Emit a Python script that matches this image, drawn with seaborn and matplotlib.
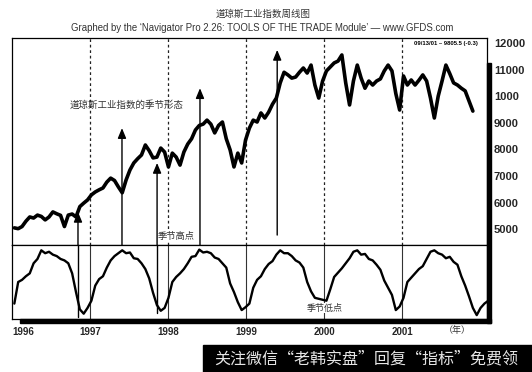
import numpy as np
import pandas as pd
import matplotlib
matplotlib.use("Agg")
import matplotlib.pyplot as plt
from matplotlib.patches import Rectangle
import seaborn as sns

sns.set_style("white")
plt.rcParams['font.family'] = ['Liberation Sans', 'Noto Sans CJK SC', 'DejaVu Sans']
CJK = ['Noto Sans CJK SC', 'DejaVu Sans']

# ---------------- data ----------------
t_start = 1996.03          # first sample (decimal year)
t_step = 0.0494            # sample spacing (years)

dow = [5050, 5020, 5100, 5300, 5460, 5420, 5530, 5480, 5350, 5460,
       5650, 5580, 5520, 5100, 5530, 5570, 5460, 5850, 5980, 6100,
       6290, 6400, 6480, 6550, 6770, 6920, 6830, 6590, 6370, 6850,
       7225, 7490, 7650, 7790, 8165, 7950, 7680, 7710, 8050, 7900,
       7340, 7860, 7710, 7410, 7900, 8200, 8400, 8730, 8900, 8950,
       9100, 8950, 8620, 8900, 9030, 8400, 7980, 7340, 7860, 7490,
       8350, 8800, 9100, 9030, 9370, 9180, 9400, 9700, 9930, 10500,
       10900, 10800, 10680, 10720, 10900, 11060, 10870, 11170, 10420, 9930,
       10570, 10950, 11100, 11250, 11320, 11550, 10500, 9670, 10570, 11170,
       10680, 10300, 10570, 10420, 10570, 10650, 10950, 11170, 10950, 10100,
       9480, 10760, 10420, 10610, 10420, 10600, 10800, 10570, 9930, 9180,
       10000, 10570, 11170, 10850, 10500, 10420, 10300, 10200, 9820, 9440]

osc = [20, 50, 53, 58, 62, 76, 82, 94, 90, 92,
       88, 86, 82, 80, 76, 62, 36, 12, 6, 14,
       24, 45, 54, 58, 70, 80, 86, 90, 94, 90,
       91, 83, 82, 76, 68, 55, 35, 18, 10, 14,
       28, 50, 57, 62, 68, 76, 85, 86, 95, 91,
       92, 90, 84, 82, 76, 70, 48, 36, 22, 11,
       15, 20, 42, 53, 58, 68, 75, 79, 88, 94,
       90, 90, 86, 80, 77, 70, 50, 37, 28, np.nan,
       np.nan, 24, 40, 57, 63, 69, 76, 83, 92, 94,
       88, 89, 82, 80, 74, 67, 52, 42, 32, 11,
       16, 28, 50, 56, 62, 68, 72, 82, 92, 94,
       90, 88, 83, 85, 78, 74, 58, 45, 30, 14,
       4, 14, 20, 24]

year_lines = [1997, 1998, 1999, 2000, 2001]
year_labels = ['1996', '1997', '1998', '1999', '2000', '2001']
price_ticks = [5000, 6000, 7000, 8000, 9000, 10000, 11000, 12000]
price_labels = ['5000', '6000', '7000', '8000', '9000', '1000', '11000', '12000']

# arrows: x (year), tip value, base value in top panel, base in lower panel (None = no extension)
arrow_x = [1996.846, 1997.41, 1997.86, 1998.41, 1999.40]
arrow_tip = [5650, 8800, 7490, 10300, 11740]
arrow_base = [None, 4406, None, 4406, 4780]
arrow_low = [1.4, None, 7.0, None, None]

df_top = pd.DataFrame({'t': t_start + t_step * np.arange(len(dow)), 'v': dow})
df_bot = pd.DataFrame({'t': t_start + t_step * np.arange(len(osc)), 'v': osc})

# ---------------- layout ----------------
W, H = 532, 372
fig = plt.figure(figsize=(W / 100, H / 100), dpi=100)

def fx(px):
    return px / W

def fy(py):
    return 1 - py / H

L, R = 12, 487
T, MID, B = 38, 245, 319
ax1 = fig.add_axes([fx(L), fy(MID), (R - L) / W, (MID - T) / H])
ax2 = fig.add_axes([fx(L), fy(B), (R - L) / W, (B - MID) / H], sharex=ax1)

x0 = 1996.0
x1 = 1996.0 + (R - 12) / 78

# top panel
sns.lineplot(data=df_top, x='t', y='v', ax=ax1, color='black', lw=2.6, estimator=None)
ax1.set_ylim(4406, 12188)
ax1.set_xlim(x0, x1)
for yl in year_lines:
    ax1.axvline(yl, color='#222222', lw=0.9, ls=(0, (2.2, 2.2)), zorder=1)
ax1.yaxis.tick_right()
ax1.set_yticks(price_ticks)
ax1.set_yticklabels(price_labels, fontsize=8, fontweight='bold')
ax1.tick_params(axis='y', length=0, pad=5)
ax1.tick_params(axis='x', length=0, labelbottom=False)
ax1.set_xlabel('')
ax1.set_ylabel('')

# lower panel
sns.lineplot(data=df_bot, x='t', y='v', ax=ax2, color='black', lw=1.7, estimator=None)
ax2.set_ylim(-1.4, 101.4)
ax2.set_yticks([])
for yl in year_lines:
    ax2.axvline(yl, color='#333333', lw=0.8, zorder=1)
ax2.set_xticks([1996.0] + year_lines)
ax2.set_xticklabels(year_labels, fontsize=7, fontweight='bold')
ax2.tick_params(axis='x', length=0, pad=6)
ax2.get_xticklabels()[0].set_horizontalalignment('left')
ax2.set_xlabel('')
ax2.set_ylabel('')
ax2.set_xlim(x0, x1)

for ax in (ax1, ax2):
    for s in ax.spines.values():
        s.set_color('black')
        s.set_linewidth(0.9)

# arrows
for xa, tip, base, low in zip(arrow_x, arrow_tip, arrow_base, arrow_low):
    b = base if base is not None else 4406
    ax1.annotate('', xy=(xa, tip), xytext=(xa, b), annotation_clip=False,
                 arrowprops=dict(arrowstyle='-|>,head_length=0.6,head_width=0.25',
                                 color='black', lw=1.0, mutation_scale=10,
                                 shrinkA=0, shrinkB=0))
    if low is not None:
        ax2.plot([xa, xa], [low, 101.4], color='black', lw=1.0, clip_on=False)

# labels inside
fig.text(fx(70), fy(105), '道琼斯工业指数的季节形态', family=CJK, fontsize=6.8,
         color='#333333', ha='left', va='center')
fig.text(fx(158), fy(236), '季节高点', family=CJK, fontsize=6.7, color='#333333',
         ha='left', va='center',
         bbox=dict(facecolor='white', edgecolor='none', pad=0.3))
fig.text(fx(307), fy(308), '季节低点', family=CJK, fontsize=6.5, color='#333333',
         ha='left', va='center',
         bbox=dict(facecolor='white', edgecolor='none', pad=0.5))
fig.text(fx(457), fy(331), '（年）', family=CJK, fontsize=6.5, color='#333333',
         ha='center', va='center')
fig.text(fx(478), fy(44), '09/13/01 – 9805.5 (-0.3)', fontsize=4.2, fontweight='bold',
         color='black', ha='right', va='center')

# titles
fig.text(fx(263), fy(14), '道琼斯工业指数周线图', family=CJK, fontsize=6.8,
         color='#333333', ha='center', va='center')
fig.text(fx(262), fy(28),
         'Graphed by the ‘Navigator Pro 2.26: TOOLS OF THE TRADE Module’ — www.GFDS.com',
         fontsize=6.9, color='#333333', ha='center', va='center')

# frame shadow
fig.patches.append(Rectangle((fx(487), fy(323)), 4 / W, (323 - 63) / H,
                             transform=fig.transFigure, color='black', zorder=5))
fig.patches.append(Rectangle((fx(20), fy(323)), (491 - 20) / W, 4 / H,
                             transform=fig.transFigure, color='black', zorder=5))

# watermark banner
fig.patches.append(Rectangle((fx(203), 0), (W - 203) / W, (372 - 345) / H,
                             transform=fig.transFigure, color='black', zorder=5))
fig.text(fx(366), fy(359), '关注微信“老韩实盘”回复“指标”免费领', family=CJK,
         fontsize=11.5, color='#e6e6e6', ha='center', va='center', zorder=6)

fig.savefig('out.png', dpi=100)
